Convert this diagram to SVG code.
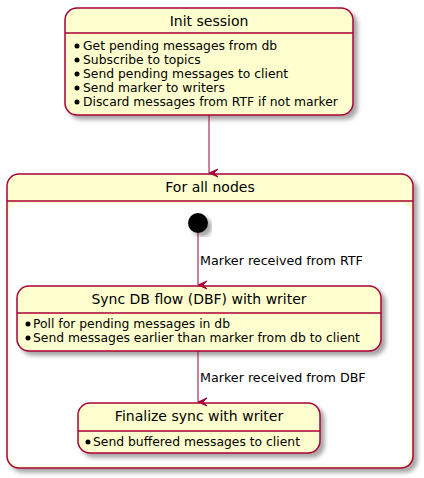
<svg xmlns="http://www.w3.org/2000/svg" width="424" height="478" viewBox="0 0 424 478">
<defs>
<filter id="sh" x="-10%" y="-10%" width="130%" height="130%">
<feGaussianBlur in="SourceAlpha" stdDeviation="2"/>
<feOffset dx="4" dy="4" result="b"/>
<feComponentTransfer><feFuncA type="linear" slope="0.35"/></feComponentTransfer>
<feMerge><feMergeNode/><feMergeNode in="SourceGraphic"/></feMerge>
</filter>
<marker id="ah" markerWidth="10" markerHeight="10" refX="5" refY="9" orient="auto" markerUnits="userSpaceOnUse" viewBox="0 0 10 10">
<path d="M1,0 L5,9 L9,0 L5,4 Z" fill="#A80036" stroke="#A80036" stroke-width="1"/>
</marker>
</defs>
<style>
.box{fill:#FEFECE;stroke:#A80036;stroke-width:1.5}
.sep{stroke:#A80036;stroke-width:1.5}
.t{font-family:"DejaVu Sans",sans-serif;font-size:14px;fill:#000;text-anchor:middle}
.d{font-family:"DejaVu Sans",sans-serif;font-size:12.35px;fill:#000}
.l{font-family:"DejaVu Sans",sans-serif;font-size:12.7px;fill:#000}
.e{fill:none;stroke:#A80036;stroke-width:1}
</style>
<g id="init">
<rect class="box" x="65" y="8" width="288" height="107" rx="12" filter="url(#sh)"/>
<line class="sep" x1="65" y1="33" x2="353" y2="33"/>
<text class="t" x="209" y="26">Init session</text>
<g class="d">
<circle cx="77" cy="46" r="2.5"/><text x="83" y="50">Get pending messages from db</text>
<circle cx="77" cy="60" r="2.5"/><text x="83" y="64">Subscribe to topics</text>
<circle cx="77" cy="74" r="2.5"/><text x="83" y="78">Send pending messages to client</text>
<circle cx="77" cy="88" r="2.5"/><text x="83" y="92">Send marker to writers</text>
<circle cx="77" cy="102" r="2.5"/><text x="83" y="106">Discard messages from RTF if not marker</text>
</g>
</g>
<g id="forall">
<rect class="box" x="7" y="174" width="406" height="294" rx="12" filter="url(#sh)"/>
<line class="sep" x1="7" y1="201" x2="413" y2="201"/>
<rect x="9" y="203" width="402" height="263" rx="10" fill="#FFFFFF"/>
<text class="t" x="210" y="192">For all nodes</text>
</g>
<g id="start">
<circle cx="198" cy="223" r="10" fill="#000" filter="url(#sh)"/>
</g>
<g id="sync">
<rect class="box" x="17" y="286" width="364" height="65" rx="12" filter="url(#sh)"/>
<line class="sep" x1="17" y1="313" x2="381" y2="313"/>
<text class="t" x="199" y="304">Sync DB flow (DBF) with writer</text>
<g class="d">
<circle cx="28" cy="324" r="2.5"/><text x="33" y="328">Poll for pending messages in db</text>
<circle cx="28" cy="338" r="2.5"/><text x="33" y="342">Send messages earlier than marker from db to client</text>
</g>
</g>
<g id="finalize">
<rect class="box" x="78" y="403" width="242" height="50" rx="12" filter="url(#sh)"/>
<line class="sep" x1="78" y1="431" x2="320" y2="431"/>
<text class="t" x="199" y="421">Finalize sync with writer</text>
<g class="d">
<circle cx="88" cy="442" r="2.5"/><text x="93" y="446">Send buffered messages to client</text>
</g>
</g>
<g id="connectors">
<line class="e" x1="209" y1="115" x2="209" y2="173" marker-end="url(#ah)"/>
<line class="e" x1="198" y1="233" x2="198" y2="285" marker-end="url(#ah)"/>
<text class="l" x="200" y="265">Marker received from RTF</text>
<line class="e" x1="198" y1="351" x2="198" y2="402" marker-end="url(#ah)"/>
<text class="l" x="200" y="382">Marker received from DBF</text>
</g>
</svg>
